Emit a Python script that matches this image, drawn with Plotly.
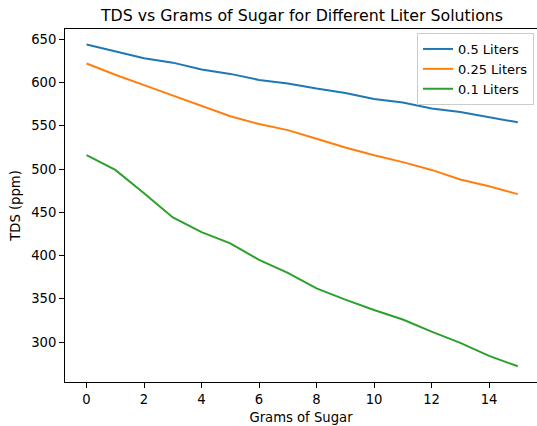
import plotly.graph_objects as go

grams = list(range(16))
tds_05 = [644, 636, 628, 623, 615, 610, 603, 599, 593, 588, 581, 577, 570, 566, 560, 554]
tds_025 = [622, 609, 597, 585, 573, 561, 552, 545, 535, 525, 516, 508, 499, 488, 480, 471]
tds_01 = [516, 499, 472, 444, 427, 414, 395, 380, 362, 349, 337, 326, 312, 299, 284, 272]
series_names = ["0.5 Liters", "0.25 Liters", "0.1 Liters"]
colors = ["#1f77b4", "#ff7f0e", "#2ca02c"]

FONT = "DejaVu Sans"
fig = go.Figure()
for name, ys, c in zip(series_names, [tds_05, tds_025, tds_01], colors):
    fig.add_trace(go.Scatter(x=grams, y=ys, mode="lines", name=name,
                             line=dict(color=c, width=2)))

W, H = 537, 426
L, R, T, B = 65, 0, 29, 44
fig.update_layout(
    width=W, height=H,
    margin=dict(l=L, r=R, t=T, b=B, pad=0),
    paper_bgcolor="white", plot_bgcolor="white",
    font=dict(family=FONT, size=13.2, color="black"),
    title=dict(text="TDS vs Grams of Sugar for Different Liter Solutions",
               font=dict(family=FONT, size=15.8, color="black"),
               xref="container", x=302 / W, xanchor="center",
               yref="container", y=1 - 15.5 / H, yanchor="middle"),
    showlegend=True,
    legend=dict(x=(417 - L) / (W - L - R), xanchor="left",
                y=(H - B - 33) / (H - T - B), yanchor="top",
                bgcolor="rgba(255,255,255,0.8)", bordercolor="#cccccc", borderwidth=1,
                font=dict(family=FONT, size=13, color="black")),
    xaxis=dict(range=[-0.75, -0.75 + (W - L - R) / 28.75],
               tick0=0, dtick=2, showgrid=False, zeroline=False,
               showline=True, linecolor="black", linewidth=1, mirror=True,
               ticks="outside", ticklen=5, tickwidth=1, tickcolor="black",
               title=dict(text="Grams of Sugar", standoff=6,
                          font=dict(family=FONT, size=13.2, color="black"))),
    yaxis=dict(range=[253.8, 661.9], tick0=300, dtick=50,
               showgrid=False, zeroline=False,
               showline=True, linecolor="black", linewidth=1, mirror=False,
               ticks="outside", ticklen=5, tickwidth=1, tickcolor="black",
               title=dict(text="TDS (ppm)", standoff=7,
                          font=dict(family=FONT, size=13.2, color="black"))),
)
fig.write_html("out.html")
